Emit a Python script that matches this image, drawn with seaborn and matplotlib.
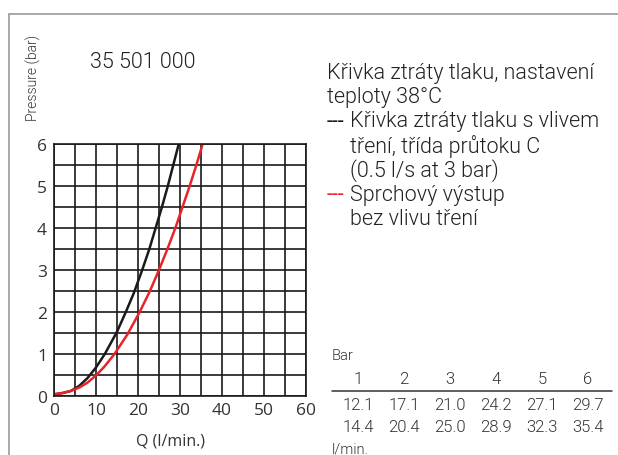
import matplotlib
matplotlib.use("Agg")
import matplotlib.pyplot as plt
import numpy as np
import pandas as pd
import seaborn as sns
from matplotlib.lines import Line2D
from matplotlib.ticker import MultipleLocator

# curve (flow l/min, pressure bar)
black_q = [0, 2, 4, 6, 8, 10, 12.1, 15, 17.1, 19, 21.0, 22.7, 24.2, 25.7, 27.1, 28.4, 29.7]
black_p = [0.04, 0.07, 0.12, 0.24, 0.43, 0.68, 1, 1.53, 2, 2.45, 3, 3.5, 4, 4.5, 5, 5.5, 6]
red_q = [0, 2, 4, 6, 8, 10, 12, 14.4, 17.5, 20.4, 22.8, 25.0, 27, 28.9, 30.6, 32.3, 33.9, 35.4]
red_p = [0.04, 0.07, 0.12, 0.2, 0.32, 0.49, 0.7, 1, 1.47, 2, 2.49, 3, 3.5, 4, 4.5, 5, 5.5, 6]

# table under the legend
table_bar = ["1", "2", "3", "4", "5", "6"]
table_black = ["12.1", "17.1", "21.0", "24.2", "27.1", "29.7"]
table_red = ["14.4", "20.4", "25.0", "28.9", "32.3", "35.4"]

legend_lines = [
    ("", "Křivka ztráty tlaku, nastavení", None),
    ("", "teploty 38°C", None),
    ("---", "Křivka ztráty tlaku s vlivem", "#1a1a1a"),
    ("", "tření, třída průtoku C", None),
    ("", "(0.5 l/s at 3 bar)", None),
    ("---", "Sprchový výstup", "#e8242a"),
    ("", "bez vlivu tření", None),
]

sns.set_style("white")
plt.rcParams["font.family"] = ["Roboto", "DejaVu Sans"]
plt.rcParams["font.weight"] = 300

W, H = 618, 456
fig = plt.figure(figsize=(W / 100, H / 100), dpi=100)


def fx(px):
    return px / W


def fy(py):
    return 1 - py / H


# outer gray frame (top and left only)
fig.add_artist(Line2D([fx(9), 1], [fy(15), fy(15)], color="#9a9a9a", lw=1.2))
fig.add_artist(Line2D([fx(9), fx(9)], [fy(15), 0], color="#9a9a9a", lw=1.2))

ax = fig.add_axes([fx(54), fy(397), (306 - 54) / W, (397 - 145) / H])
df_black = pd.DataFrame({"Q": black_q, "P": black_p})
df_red = pd.DataFrame({"Q": red_q, "P": red_p})
sns.lineplot(data=df_black, x="Q", y="P", ax=ax, color="#1a1a1a", lw=1.8, sort=False)
sns.lineplot(data=df_red, x="Q", y="P", ax=ax, color="#e8242a", lw=1.8, sort=False)

ax.set_xlim(0, 60)
ax.set_ylim(0, 6)
ax.xaxis.set_major_locator(MultipleLocator(10))
ax.xaxis.set_minor_locator(MultipleLocator(5))
ax.yaxis.set_major_locator(MultipleLocator(1))
ax.yaxis.set_minor_locator(MultipleLocator(0.5))
ax.grid(which="both", color="#1a1a1a", lw=1.2)
ax.set_axisbelow(True)
for s in ax.spines.values():
    s.set_color("#1a1a1a")
    s.set_linewidth(1.2)
ax.tick_params(which="both", length=0)
ax.tick_params(axis="x", pad=4, labelsize=12.5, labelcolor="#333333")
ax.tick_params(axis="y", pad=5, labelsize=12.5, labelcolor="#333333")
for lab in ax.get_xticklabels() + ax.get_yticklabels():
    lab.set_family(["Open Sans", "DejaVu Sans"])
    lab.set_fontweight("normal")
ax.set_xlabel("")
ax.set_ylabel("")

fig.text(fx(171), fy(442), "Q (l/min.)", ha="center", va="center", fontsize=11.5,
         color="#333333", family=["Open Sans", "DejaVu Sans"], fontweight="normal")
fig.text(fx(33), fy(78), "Pressure (bar)", rotation=90, ha="center", va="center",
         fontsize=10, color="#333333")
fig.text(fx(90), fy(62), "35 501 000", ha="left", va="center", fontsize=15.5, color="#222222")

# legend text block
fs = 15.5
tc = "#222222"
y0 = 73
for i, (dash, text, col) in enumerate(legend_lines):
    y = y0 + i * 24.5
    if dash:
        fig.text(fx(327), fy(y), dash, ha="left", va="center", fontsize=fs, color=col,
                 fontweight="normal")
        fig.text(fx(350), fy(y), text, ha="left", va="center", fontsize=fs, color=tc)
    elif i < 2:
        fig.text(fx(327), fy(y), text, ha="left", va="center", fontsize=fs, color=tc)
    else:
        fig.text(fx(350), fy(y), text, ha="left", va="center", fontsize=fs, color=tc)

# table
tcol = "#333333"
fig.text(fx(332), fy(356), "Bar", ha="left", va="center", fontsize=10.5, color=tcol)
xs = [358 + 46 * i for i in range(len(table_bar))]
for x, b, k, r in zip(xs, table_bar, table_black, table_red):
    fig.text(fx(x), fy(380), b, ha="center", va="center", fontsize=12, color=tcol)
    fig.text(fx(x), fy(405), k, ha="center", va="center", fontsize=12, color=tcol)
    fig.text(fx(x), fy(428), r, ha="center", va="center", fontsize=12, color=tcol)
fig.add_artist(Line2D([fx(332), fx(612)], [fy(392), fy(392)], color="#333333", lw=1.1))
fig.text(fx(332), fy(450), "l/min.", ha="left", va="center", fontsize=10.5, color=tcol)

fig.savefig("out.png", dpi=100)
